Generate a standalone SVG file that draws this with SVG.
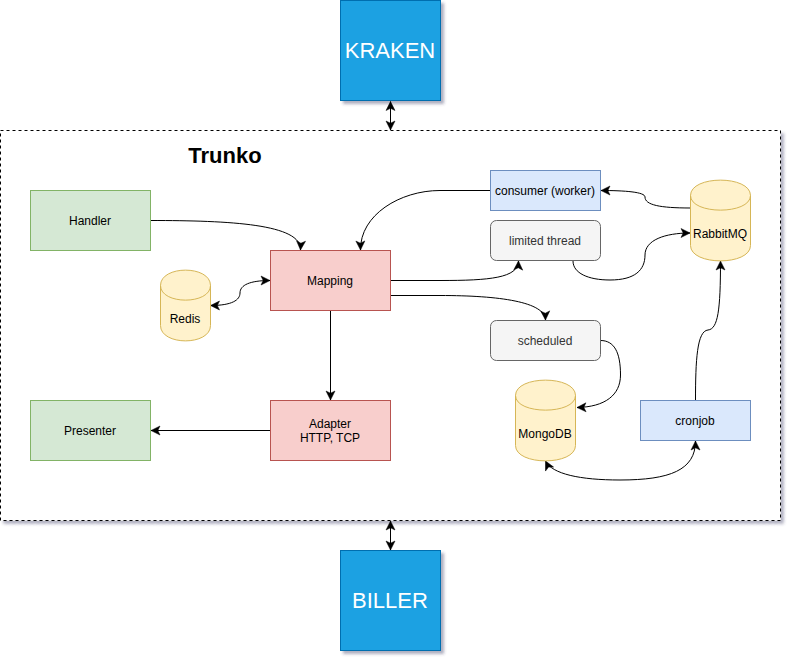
<svg xmlns="http://www.w3.org/2000/svg" width="792" height="662" viewBox="0 0 792 662">
<defs>
<marker id="a" markerUnits="userSpaceOnUse" markerWidth="12" markerHeight="10" refX="9" refY="4.500" orient="auto-start-reverse" overflow="visible"><path d="M0 0L9 4.500L0 9L2.200 4.500Z" fill="#000" stroke="#000" stroke-width="0.500"/></marker>
<filter id="s" x="-10%" y="-10%" width="125%" height="125%"><feDropShadow dx="3" dy="3" stdDeviation="1.800" flood-color="#3a3a60" flood-opacity="0.400"/></filter>
</defs>
<style>
text{font-family:"Liberation Sans",Arial,Helvetica,sans-serif;font-size:12px;text-anchor:middle;fill:#000}
.b{fill:#1ba1e2;stroke:#006eaf}
.h{font-size:22px;fill:#fff}
.g{fill:#d5e8d4;stroke:#82b366}
.r{fill:#f8cecc;stroke:#b85450}
.u{fill:#dae8fc;stroke:#6c8ebf}
.y{fill:#fff2cc;stroke:#d6b656}
.n{fill:none;stroke:#d6b656}
.t{fill:#f5f5f5;stroke:#666}
.t+text{fill:#333}
#connectors path{fill:none;stroke:#000;stroke-width:1;marker-end:url(#a)}
#connectors path.d{marker-start:url(#a)}
</style>
<rect width="792" height="662" fill="#fff"/>
<g id="trunko"><rect x="0.500" y="130.500" width="780" height="390" fill="#fff" stroke="#000" stroke-dasharray="3 3" filter="url(#s)"/><text x="225" y="163" style="font-size:22px;font-weight:bold">Trunko</text></g>
<g id="kraken"><rect class="b" x="340.500" y="0.500" width="100" height="100" filter="url(#s)"/><text class="h" x="390" y="58">KRAKEN</text></g>
<g id="biller"><rect class="b" x="340.500" y="550.500" width="100" height="100" filter="url(#s)"/><text class="h" x="390" y="608">BILLER</text></g>
<g id="connectors">
<path class="d" d="M390.500 101.500V130"/>
<path class="d" d="M390.500 521V550"/>
<path d="M150.500 220.500C230 220.500 302 224 300.500 250"/>
<path d="M490.500 190.500H440C400 190.500 360 215 360.500 250"/>
<path class="d" d="M210.500 305.500C232 305.500 240 300 240 293C240 285 250 280.500 270 280.500"/>
<path d="M330.500 310.500V400"/>
<path d="M270.500 430.500H151"/>
<path d="M390.500 280.500H440C490 280.500 518 278 518.500 261"/>
<path d="M390.500 295.500H440C500 295.500 545 302 545.500 320"/>
<path d="M690.500 208C660 208 645 205 645 197C645 192 625 190.500 601 190.500"/>
<path d="M573 261C573 273 588 280 610 280C635 280 645 270 645 255C645 240 665 233 690 233"/>
<path d="M600.500 340.500C614 340.500 620.500 352 620.500 375C620.500 395 605 407 577 407.500"/>
<path d="M695.500 400.500C695.500 360 697 331 708 330C718 329 720.500 310 720.500 261"/>
<path class="d" d="M545.500 461C552 474 580 480 620 480C670 480 695.500 470 695.500 441"/>
</g>
<g id="handler"><rect class="g" x="30.500" y="190.500" width="120" height="60"/><text x="90" y="225">Handler</text></g>
<g id="mapping"><rect class="r" x="270.500" y="250.500" width="120" height="60"/><text x="330" y="285">Mapping</text></g>
<g id="adapter"><rect class="r" x="270.500" y="400.500" width="120" height="60"/><text x="330" y="428">Adapter</text><text x="330" y="442">HTTP, TCP</text></g>
<g id="presenter"><rect class="g" x="30.500" y="400.500" width="120" height="60"/><text x="90" y="435">Presenter</text></g>
<g id="consumer"><rect class="u" x="490.500" y="170.500" width="110" height="40"/><text x="545" y="195">consumer (worker)</text></g>
<g id="limited"><rect class="t" x="490.500" y="220.500" width="110" height="40" rx="6"/><text x="545" y="245">limited thread</text></g>
<g id="scheduled"><rect class="t" x="490.500" y="320.500" width="110" height="40" rx="6"/><text x="545" y="345">scheduled</text></g>
<g id="cronjob"><rect class="u" x="640.500" y="400.500" width="110" height="40"/><text x="695" y="425">cronjob</text></g>
<g id="redis"><path class="y" d="M160.500 285.500C160.500 265 210.500 265 210.500 285.500V325.500C210.500 346 160.500 346 160.500 325.500Z"/><path class="n" d="M160.500 285.500C160.500 305 210.500 305 210.500 285.500"/><text x="185" y="323">Redis</text></g>
<g id="rabbitmq"><path class="y" d="M690.500 195.500C690.500 175 750.500 175 750.500 195.500V245.500C750.500 266 690.500 266 690.500 245.500Z"/><path class="n" d="M690.500 195.500C690.500 215 750.500 215 750.500 195.500"/><text x="720" y="238">RabbitMQ</text></g>
<g id="mongodb"><path class="y" d="M515.500 395.500C515.500 375 575.500 375 575.500 395.500V445.500C575.500 466 515.500 466 515.500 445.500Z"/><path class="n" d="M515.500 395.500C515.500 415 575.500 415 575.500 395.500"/><text x="545" y="438">MongoDB</text></g>
</svg>
